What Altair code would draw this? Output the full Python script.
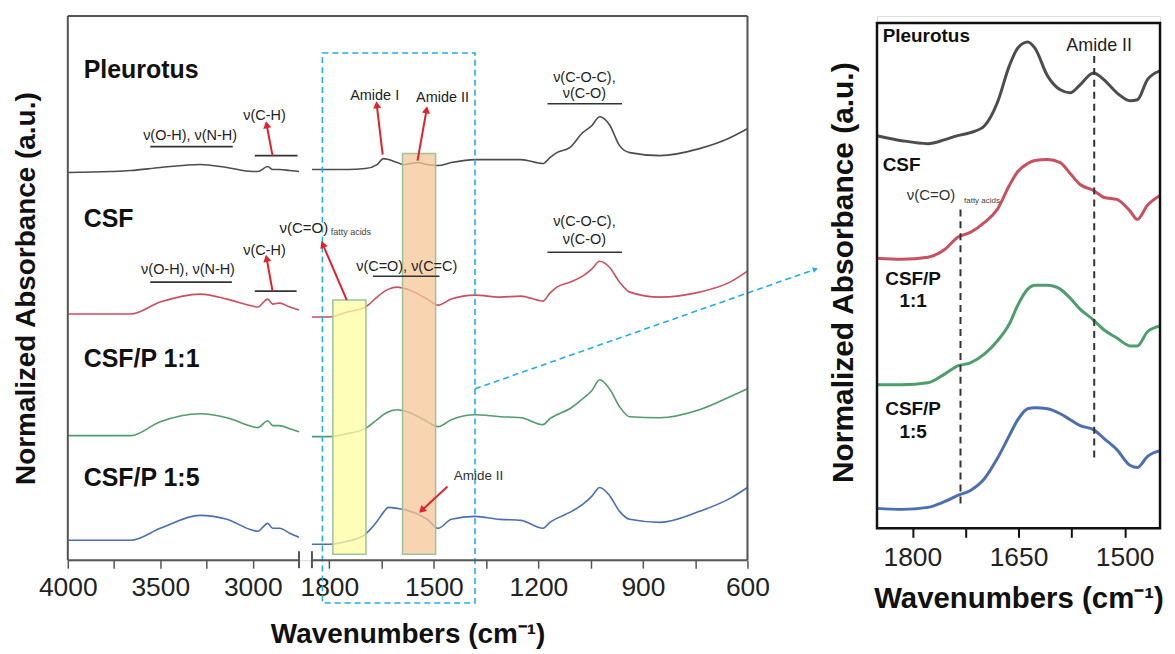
import altair as alt
import pandas as pd

FONT = "Liberation Sans"
SERIES = ["Pleurotus", "CSF", "CSF/P 1:1", "CSF/P 1:5"]
LEFT_COLORS = ["#4d4d4d", "#c9505e", "#4f9c6c", "#4a6fb3"]
ZOOM_COLORS = ["#4a4a4a", "#ee3b3b", "#33a864", "#2e6ee0"]

# ---------- left (broken axis) spectra ----------
HI_WN = [4000, 3770, 3660, 3500, 3285, 3140, 3000, 2973, 2919, 2892, 2855, 2800, 2750]
PLEUROTUS_HI = [3.89, 3.90, 3.91, 3.94, 3.97, 3.94, 3.90, 3.90, 3.95, 3.92, 3.92, 3.91, 3.90]
CSF_HI = [2.47, 2.47, 2.47, 2.59, 2.67, 2.62, 2.55, 2.54, 2.62, 2.57, 2.58, 2.54, 2.51]
CSFP11_HI = [1.25, 1.25, 1.25, 1.39, 1.47, 1.43, 1.34, 1.33, 1.40, 1.35, 1.35, 1.32, 1.29]
CSFP15_HI = [0.20, 0.20, 0.20, 0.32, 0.45, 0.41, 0.30, 0.29, 0.37, 0.32, 0.32, 0.27, 0.23]

LO_WN = [1850, 1800, 1748, 1697, 1663, 1645, 1630, 1605, 1588, 1568, 1545, 1519, 1488, 1450,
         1382, 1310, 1250, 1187, 1167, 1147, 1110, 1073, 1047, 1024, 996, 967, 938, 852, 738, 650, 600]
PLEUROTUS_LO = [3.92, 3.92, 3.92, 3.93, 3.97, 4.03, 4.02, 3.99, 3.97, 3.98, 3.99, 3.97, 3.96, 3.99,
                4.02, 4.02, 4.02, 3.98, 4.04, 4.09, 4.14, 4.29, 4.36, 4.45, 4.37, 4.16, 4.09, 4.06, 4.13, 4.24, 4.33]
CSF_LO = [2.44, 2.44, 2.49, 2.54, 2.64, 2.69, 2.72, 2.74, 2.73, 2.71, 2.67, 2.62, 2.56, 2.62,
          2.66, 2.64, 2.65, 2.60, 2.68, 2.74, 2.79, 2.85, 2.92, 3.00, 2.94, 2.79, 2.69, 2.64, 2.69, 2.79, 2.90]
CSFP11_LO = [1.24, 1.24, 1.27, 1.32, 1.41, 1.46, 1.49, 1.51, 1.50, 1.48, 1.44, 1.39, 1.34, 1.41,
             1.46, 1.44, 1.43, 1.36, 1.42, 1.46, 1.52, 1.62, 1.70, 1.81, 1.72, 1.54, 1.44, 1.43, 1.51, 1.64, 1.72]
CSFP15_LO = [0.16, 0.16, 0.19, 0.26, 0.39, 0.48, 0.53, 0.52, 0.51, 0.49, 0.46, 0.41, 0.32, 0.41,
             0.44, 0.41, 0.40, 0.32, 0.38, 0.42, 0.48, 0.56, 0.64, 0.73, 0.65, 0.49, 0.41, 0.38, 0.49, 0.62, 0.73]

# ---------- zoomed panel spectra ----------
ZOOM_WN = [1850, 1815, 1778, 1754, 1736, 1718, 1698, 1680, 1663, 1651, 1637, 1627, 1609, 1591,
           1577, 1563, 1544, 1529, 1511, 1492, 1482, 1468, 1450]
PLEUROTUS_Z = [3.94, 3.89, 3.86, 3.90, 3.94, 3.97, 4.04, 4.27, 4.64, 4.82, 4.88, 4.82, 4.54, 4.40,
               4.37, 4.45, 4.57, 4.50, 4.37, 4.29, 4.30, 4.50, 4.59]
CSF_Z = [2.71, 2.70, 2.72, 2.80, 2.92, 2.97, 3.07, 3.20, 3.44, 3.58, 3.66, 3.69, 3.70, 3.67,
         3.56, 3.45, 3.39, 3.32, 3.30, 3.18, 3.10, 3.24, 3.34]
CSFP11_Z = [1.44, 1.44, 1.46, 1.55, 1.63, 1.66, 1.75, 1.88, 2.05, 2.24, 2.40, 2.44, 2.44, 2.40,
            2.31, 2.20, 2.09, 1.99, 1.91, 1.83, 1.83, 1.97, 2.03]
CSFP15_Z = [0.20, 0.19, 0.21, 0.27, 0.33, 0.38, 0.50, 0.70, 0.93, 1.09, 1.20, 1.21, 1.20, 1.15,
            1.09, 1.03, 0.99, 0.90, 0.79, 0.63, 0.61, 0.72, 0.78]

LEFT_TICKS = [4000, 3750, 3500, 3250, 3000, 1800, 1650, 1500, 1350, 1200, 1050, 900, 750, 600]
LEFT_MAJOR = [4000, 3500, 3000, 1800, 1500, 1200, 900, 600]
ZOOM_TICKS = [1800, 1725, 1650, 1575, 1500]

# annotation texts (left panel)
ANN_TEXT = ["ν(O-H), ν(N-H)", "ν(C-H)", "Amide I", "Amide II", "ν(C-O-C),", "ν(C-O)",
            "ν(O-H), ν(N-H)", "ν(C-H)", "ν(C=O), ν(C=C)", "ν(C-O-C),", "ν(C-O)"]
ANN_WN = [3339, 2936, 1670, 1475, 1068, 1068, 3350, 2936, 1578, 1068, 1068]
ANN_Y = [4.26, 4.46, 4.66, 4.64, 4.84, 4.68, 2.91, 3.10, 2.94, 3.39, 3.21]

UL_WN1 = [3554, 2989, 1174, 3554, 2989, 1675, 1174]
UL_WN2 = [3108, 2758, 960, 3113, 2763, 1484, 960]
UL_Y = [4.15, 4.06, 4.58, 2.79, 2.70, 2.85, 3.09]

ARROW_WN1 = [2893, 1647, 1547, 2893, 1750, 1461]
ARROW_Y1 = [4.06, 4.07, 4.01, 2.70, 2.61, 0.74]
ARROW_WN2 = [2925, 1664, 1521, 2925, 1819, 1535]
ARROW_Y2 = [4.37, 4.57, 4.52, 3.03, 3.17, 0.50]
ARROW_ANGLE = [349, 353, 10, 349, 337, 227]

LABEL_WN = [3914, 3914, 3914, 3914]
LABEL_Y = [4.84, 3.34, 1.94, 0.74]

RED = "#e3202b"
BLUEDASH = "#1eaef0"

# ---------- left chart ----------
rows = []
for s, hi, lo in zip(SERIES, [PLEUROTUS_HI, CSF_HI, CSFP11_HI, CSFP15_HI],
                     [PLEUROTUS_LO, CSF_LO, CSFP11_LO, CSFP15_LO]):
    for w, v in zip(HI_WN, hi):
        rows.append({"x": w, "y": v, "series": s, "seg": s + "hi"})
    for w, v in zip(LO_WN, lo):
        rows.append({"x": w, "y": v, "series": s, "seg": s + "lo"})
df_left = pd.DataFrame(rows)

XS_L = alt.Scale(domain=[4000, 2750, 1850, 600], range=[0, 232, 245, 682], nice=False, zero=False)
YS_L = alt.Scale(domain=[0, 5.46], nice=False, zero=False)
major_str = ",".join(str(v) for v in LEFT_MAJOR)
XA_L = alt.Axis(values=LEFT_TICKS, format="d",
                labelExpr=f"indexof([{major_str}], datum.value) >= 0 ? datum.label : ''",
                domain=False, grid=False, tickSize=8, tickWidth=1.5, tickColor="#555",
                labelFontSize=26.5, labelPadding=6, labelColor="#222", labelFont=FONT,
                labelFlush=False, labelOverlap=False,
                titlePadding=20, titleFontSize=28, titleFontWeight="bold", titleFont=FONT,
                titleColor="#111")
YA_L = alt.Axis(labels=False, ticks=False, domain=False, grid=False, titlePadding=27,
                titleFontSize=28, titleFontWeight="bold", titleFont=FONT, titleColor="#111")
XT = "Wavenumbers (cm⁻¹)"
YT = "Normalized Absorbance (a.u.)"


def xl(f):
    return alt.X(f, type="quantitative", scale=XS_L, axis=XA_L, title=XT)


def yl(f):
    return alt.Y(f, type="quantitative", scale=YS_L, axis=YA_L, title=YT)


lines_l = alt.Chart(df_left).mark_line(strokeWidth=1.6, interpolate="monotone").encode(
    x=xl("x"), y=yl("y"),
    color=alt.Color("series:N", scale=alt.Scale(domain=SERIES, range=LEFT_COLORS), legend=None),
    detail="seg:N")

df_box = pd.DataFrame({"x": [1790, 1590], "x2": [1695, 1495], "y": [2.61, 4.08], "y2": [0.06, 0.06],
                       "fill": ["#fdfda2", "#f6c596"]})
boxes = alt.Chart(df_box).mark_rect(fillOpacity=0.75, stroke="#9cc39a", strokeWidth=1.5).encode(
    x=xl("x"), x2="x2", y=yl("y"), y2="y2", fill=alt.Fill("fill:N", scale=None))

df_dash = pd.DataFrame({"x": [1820], "x2": [1382], "y": [5.09], "y2": [-0.43]})
dash_rect = alt.Chart(df_dash).mark_rect(fillOpacity=0, stroke=BLUEDASH, strokeWidth=1.6,
                                         strokeDash=[6, 4]).encode(
    x=xl("x"), x2="x2", y=yl("y"), y2="y2")

df_conn = pd.DataFrame({"x": [1382], "x2": [405], "y": [1.72], "y2": [2.92]})
conn = alt.Chart(df_conn).mark_rule(stroke=BLUEDASH, strokeWidth=1.6, strokeDash=[6, 4]).encode(
    x=xl("x"), x2="x2", y=yl("y"), y2="y2")
conn_head = alt.Chart(pd.DataFrame({"x": [405], "y": [2.92], "a": [71]})).mark_point(
    shape="triangle-up", filled=True, size=35, color=BLUEDASH, opacity=1).encode(
    x=xl("x"), y=yl("y"), angle=alt.Angle("a:Q", scale=None))

df_frame = pd.DataFrame({
    "x": [4000, 4000, 600, 4000, 1850, 2750, 1850],
    "x2": [600, 4000, 600, 2750, 600, 2750, 1850],
    "y": [5.46, 0, 0, 0, 0, 0.09, 0.09],
    "y2": [5.46, 5.46, 5.46, 0, 0, -0.08, -0.08]})
frame_l = alt.Chart(df_frame).mark_rule(color="#555", strokeWidth=2).encode(
    x=xl("x"), x2="x2", y=yl("y"), y2="y2")

df_ul = pd.DataFrame({"x": UL_WN1, "x2": UL_WN2, "y": UL_Y})
underl = alt.Chart(df_ul).mark_rule(color="#333", strokeWidth=1.6).encode(
    x=xl("x"), x2="x2", y=yl("y"))

df_ar = pd.DataFrame({"x": ARROW_WN1, "x2": ARROW_WN2, "y": ARROW_Y1, "y2": ARROW_Y2, "a": ARROW_ANGLE})
arrows = alt.Chart(df_ar).mark_rule(color=RED, strokeWidth=2).encode(
    x=xl("x"), x2="x2", y=yl("y"), y2="y2")
heads = alt.Chart(df_ar).mark_point(shape="triangle-up", filled=True, size=65, color=RED,
                                    opacity=1).encode(
    x=xl("x2"), y=yl("y2"), angle=alt.Angle("a:Q", scale=None))

df_ann = pd.DataFrame({"x": ANN_WN, "y": ANN_Y, "t": ANN_TEXT})
ann = alt.Chart(df_ann).mark_text(font=FONT, fontSize=14.5, color="#222", align="center",
                                  baseline="middle").encode(x=xl("x"), y=yl("y"), text="t:N")

fatty = alt.Chart(pd.DataFrame({"x": [2855], "y": [3.33], "t": ["ν(C=O)"]})).mark_text(
    font=FONT, fontSize=15, color="#222", align="left", baseline="middle").encode(
    x=xl("x"), y=yl("y"), text="t:N")
fatty_sub = alt.Chart(pd.DataFrame({"x": [1796], "y": [3.29], "t": ["fatty acids"]})).mark_text(
    font=FONT, fontSize=9, color="#444", align="left", baseline="middle").encode(
    x=xl("x"), y=yl("y"), text="t:N")
amide_blue = alt.Chart(pd.DataFrame({"x": [1372], "y": [0.84], "t": ["Amide II"]})).mark_text(
    font=FONT, fontSize=13.5, color="#333", align="center", baseline="middle").encode(
    x=xl("x"), y=yl("y"), text="t:N")

df_lab = pd.DataFrame({"x": LABEL_WN, "y": LABEL_Y, "t": SERIES})
labels_l = alt.Chart(df_lab).mark_text(font=FONT, fontSize=25, fontWeight="bold", color="#111",
                                       align="left", baseline="alphabetic").encode(
    x=xl("x"), y=yl("y"), text="t:N")

left = alt.layer(lines_l, boxes, dash_rect, conn, conn_head, frame_l, underl, arrows, heads,
                 ann, fatty, fatty_sub, amide_blue, labels_l).properties(width=682, height=546)

# ---------- zoom chart ----------
zrows = []
for s, vals in zip(SERIES, [PLEUROTUS_Z, CSF_Z, CSFP11_Z, CSFP15_Z]):
    for w, v in zip(ZOOM_WN, vals):
        zrows.append({"x": w, "y": v, "series": s})
df_z = pd.DataFrame(zrows)

XS_R = alt.Scale(domain=[1850, 1450], nice=False, zero=False)
YS_R = alt.Scale(domain=[0, 5.14], nice=False, zero=False)
XA_R = alt.Axis(values=ZOOM_TICKS, format="d", labelExpr="datum.value % 150 == 0 ? datum.label : ''",
                domain=False, grid=False, tickSize=9, tickWidth=2, tickColor="#111",
                labelFontSize=26.5, labelPadding=7, labelColor="#222", labelFont=FONT,
                labelFlush=False, labelOverlap=False,
                titlePadding=14, titleFontSize=29.5, titleFontWeight="bold", titleFont=FONT,
                titleColor="#111")
YA_R = alt.Axis(labels=False, ticks=False, domain=False, grid=False, titlePadding=19,
                titleFontSize=30, titleFontWeight="bold", titleFont=FONT, titleColor="#111")


def xr(f):
    return alt.X(f, type="quantitative", scale=XS_R, axis=XA_R, title=XT)


def yr(f):
    return alt.Y(f, type="quantitative", scale=YS_R, axis=YA_R, title=YT)


lines_r = alt.Chart(df_z).mark_line(strokeWidth=3, interpolate="monotone").encode(
    x=xr("x"), y=yr("y"),
    color=alt.Color("series:N", scale=alt.Scale(domain=SERIES, range=ZOOM_COLORS), legend=None))

df_vd = pd.DataFrame({"x": [1732, 1543], "y": [3.20, 4.74], "y2": [0.24, 0.71]})
vdash = alt.Chart(df_vd).mark_rule(color="#333", strokeWidth=2, strokeDash=[7, 5]).encode(
    x=xr("x"), y=yr("y"), y2="y2")

frame_r = alt.Chart(pd.DataFrame({"x": [1850], "x2": [1450], "y": [0], "y2": [5.07]})).mark_rect(
    fillOpacity=0, stroke="#111", strokeWidth=2.5).encode(x=xr("x"), x2="x2", y=yr("y"), y2="y2")

ZL_TEXT = ["Pleurotus", "CSF"]
ZL_WN = [1842, 1842]
ZL_Y = [4.88, 3.59]
zl1 = alt.Chart(pd.DataFrame({"x": ZL_WN, "y": ZL_Y, "t": ZL_TEXT})).mark_text(
    font=FONT, fontSize=19, fontWeight="bold", color="#111", align="left",
    baseline="alphabetic").encode(x=xr("x"), y=yr("y"), text="t:N")
ZC_TEXT = ["CSF/P", "1:1", "CSF/P", "1:5"]
ZC_WN = [1799, 1799, 1799, 1799]
ZC_Y = [2.44, 2.22, 1.14, 0.91]
zl2 = alt.Chart(pd.DataFrame({"x": ZC_WN, "y": ZC_Y, "t": ZC_TEXT})).mark_text(
    font=FONT, fontSize=19, fontWeight="bold", color="#111", align="center",
    baseline="alphabetic").encode(x=xr("x"), y=yr("y"), text="t:N")
zam = alt.Chart(pd.DataFrame({"x": [1536], "y": [4.79], "t": ["Amide II"]})).mark_text(
    font=FONT, fontSize=18, color="#222", align="center", baseline="alphabetic").encode(
    x=xr("x"), y=yr("y"), text="t:N")
zfa = alt.Chart(pd.DataFrame({"x": [1808], "y": [3.29], "t": ["ν(C=O)"]})).mark_text(
    font=FONT, fontSize=15, color="#333", align="left", baseline="alphabetic").encode(
    x=xr("x"), y=yr("y"), text="t:N")
zfs = alt.Chart(pd.DataFrame({"x": [1727], "y": [3.26], "t": ["fatty acids"]})).mark_text(
    font=FONT, fontSize=8, color="#444", align="left", baseline="alphabetic").encode(
    x=xr("x"), y=yr("y"), text="t:N")

right = alt.layer(lines_r, vdash, frame_r, zl1, zl2, zam, zfa, zfs).properties(width=284, height=514)

chart = alt.hconcat(left, right, spacing=130, bounds="flush").properties(
    padding={"left": 4, "top": 5, "right": 0, "bottom": 0}
).configure_view(stroke=None).configure(font=FONT)

chart.save("out.html", embed_options={"renderer": "svg", "actions": False})
